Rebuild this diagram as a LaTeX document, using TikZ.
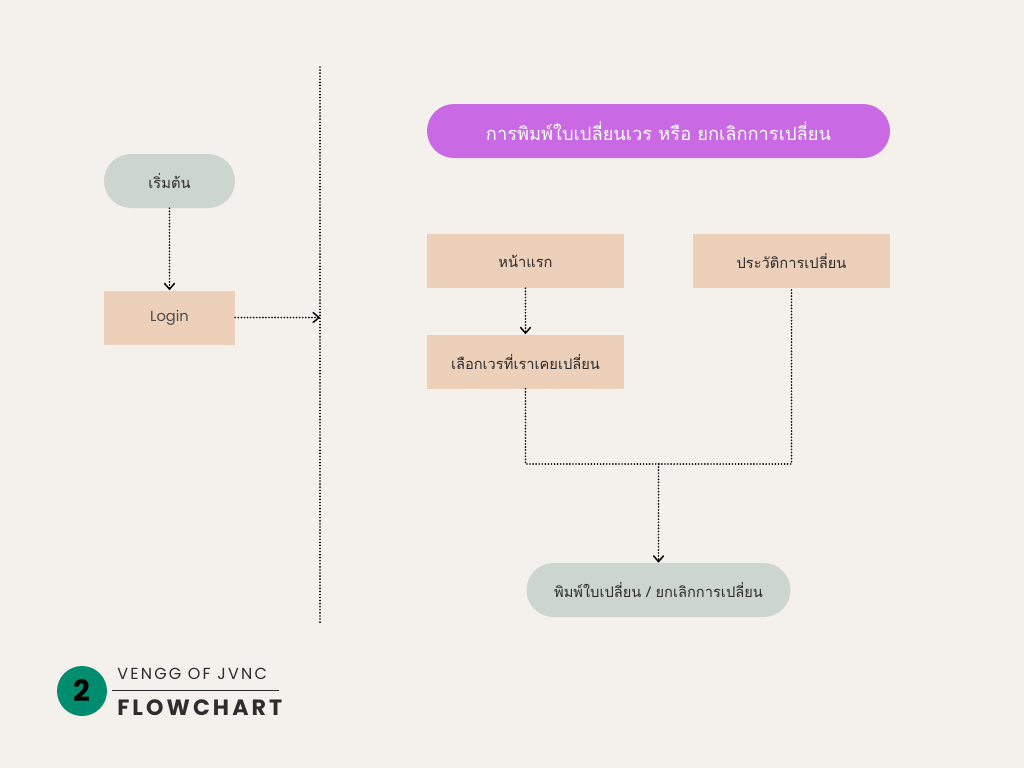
\documentclass[tikz,border=0pt]{standalone}
\usepackage{fontspec}
\setmainfont{Poppins}
\newfontfamily\thaifont[Script=Thai]{Loma}
\newfontfamily\spacedfont[LetterSpace=14]{Poppins}
\usepackage{tikz}
\usetikzlibrary{arrows.meta,positioning}
\definecolor{FCBack}{RGB}{244,240,235}
\definecolor{FCSage}{RGB}{205,214,206}
\definecolor{FCPeach}{RGB}{236,208,186}
\definecolor{FCViolet}{RGB}{201,106,228}
\definecolor{FCGreen}{RGB}{0,140,110}
\definecolor{FCText}{RGB}{45,45,45}

\begin{document}
\begin{tikzpicture}[
  x=0.75pt, y=-0.75pt,
  pill/.style={rounded corners=20.25pt, fill=FCSage, minimum height=40.5pt, text=FCText, font=\thaifont\fontsize{11}{13}\selectfont},
  box/.style={fill=FCPeach, minimum width=147.75pt, minimum height=40.5pt, text=FCText, font=\thaifont\fontsize{11}{13}\selectfont},
  line/.style={line width=1.4pt, line cap=round, dash pattern=on 0pt off 2.3pt, draw=black},
  arrow/.style={line, -{Straight Barb[length=1.5mm, width=2.6mm, line width=1.1pt, line cap=round]}}
]
\useasboundingbox[fill=FCBack] (0,0) rectangle (1024,768);

% left column
\node[pill, minimum width=98.25pt] (start) at (169.5,181) {เริ่มต้น};
\node[box, minimum width=98.25pt, below=61.5pt of start, font=\fontsize{11}{13}\selectfont, text=FCText!85] (login) {Login};
\coordinate (divtop) at (320,67);
\coordinate (divbot) at (320,625);
\draw[line] (divtop) -- (divbot);
\coordinate (divin) at (divtop |- login);

% right column
\node[pill, fill=FCViolet, minimum width=347.25pt, text=white, font=\thaifont\fontsize{13.7}{15}\selectfont] (title) at (658.5,131) {การพิมพ์ใบเปลี่ยนเวร หรือ ยกเลิกการเปลี่ยน};
\node[box] (home) at (525.5,261) {หน้าแรก};
\node[box] (history) at (791.5,261) {ประวัติการเปลี่ยน};
\node[box, below=34.5pt of home] (pick) {เลือกเวรที่เราเคยเปลี่ยน};
\node[pill, minimum width=198pt] (print) at (658.5,590) {พิมพ์ใบเปลี่ยน / ยกเลิกการเปลี่ยน};
\coordinate (merge) at (658.5,464);

\draw[arrow] (start) -- (login);
\draw[arrow] (login) -- (divin);
\draw[arrow] (home) -- (pick);
\draw[line] (pick.south) |- (merge) -| (history.south);
\draw[arrow] (merge) -- (print.north);

% logo
\node[circle, fill=FCGreen, minimum size=37.5pt, inner sep=0pt, font=\bfseries\fontsize{22}{22}\selectfont] (badge) at (82,691) {2};
\node[anchor=base west, inner sep=0pt, text=FCText, font=\spacedfont\fontsize{12}{12}\selectfont] (org) at (117,679) {VENGG OF JVNC};
\node[anchor=base west, inner sep=0pt, text=FCText, font=\spacedfont\bfseries\fontsize{16.6}{16.6}\selectfont] (kind) at (117,715) {FLOWCHART};
\draw[FCText, line width=0.75pt] (112,690) -- (279,690);
\end{tikzpicture}
\end{document}
